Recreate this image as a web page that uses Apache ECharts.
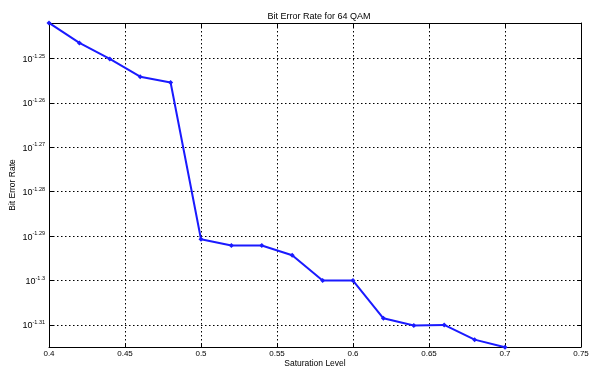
<!DOCTYPE html>
<html>
<head>
<meta charset="utf-8">
<script src="https://cdn.jsdelivr.net/npm/echarts@6/dist/echarts.min.js"></script>
<style>html,body{margin:0;padding:0;background:#fff}#c{width:590px;height:367px}</style>
</head>
<body>
<div id="c"></div>
<script>
var saturation = [0.40, 0.42, 0.44, 0.46, 0.48, 0.50, 0.52, 0.54, 0.56, 0.58, 0.60, 0.62, 0.64, 0.66, 0.68, 0.70];
var log10Ber = [-1.2420, -1.2465, -1.2501, -1.2541, -1.2554, -1.2907, -1.2921, -1.2921, -1.2943, -1.3000, -1.3000, -1.3085, -1.3101, -1.3100, -1.3133, -1.3150];
var yTickExponents = [-1.31, -1.30, -1.29, -1.28, -1.27, -1.26, -1.25];
var xTicks = [0.4, 0.45, 0.5, 0.55, 0.6, 0.65, 0.7, 0.75];

var FONT = 'Liberation Sans, Arial, sans-serif';
var chart = echarts.init(document.getElementById('c'));
var data = saturation.map(function (x, i) { return [x, log10Ber[i]]; });
var yMin = -1.31496, yMax = -1.24201;
var grid = { left: 49, right: 9, top: 23, bottom: 20, outerBoundsMode: 'none', containLabel: false };
var dash = { color: '#000', type: [1.5, 2.5], width: 1 };

chart.setOption({
  animation: false,
  backgroundColor: '#fff',
  title: {
    text: 'Bit Error Rate for 64 QAM',
    left: 314, top: 7, textAlign: 'center',
    textStyle: { fontFamily: FONT, fontSize: 9, fontWeight: 'normal', color: '#000' }
  },
  grid: grid,
  xAxis: [{
    type: 'value', min: 0.4, max: 0.75, interval: 0.05,
    name: 'Saturation Level', nameLocation: 'middle', nameGap: 12, nameMoveOverlap: false,
    nameTextStyle: { fontFamily: FONT, fontSize: 8.5, color: '#000' },
    axisLine: { show: true, onZero: false, lineStyle: { color: '#000', width: 1 } },
    axisTick: { show: true, inside: true, length: 4, lineStyle: { color: '#000' } },
    axisLabel: { fontFamily: FONT, fontSize: 8, color: '#000', margin: 3,
      formatter: function (v) { return String(+v.toFixed(2)); } },
    splitLine: { show: true, lineStyle: dash }
  }, {
    type: 'value', min: 0.4, max: 0.75, interval: 0.05, position: 'top',
    axisLine: { show: true, onZero: false, lineStyle: { color: '#000', width: 1 } },
    axisTick: { show: true, inside: true, length: 4, lineStyle: { color: '#000' } },
    axisLabel: { show: false }, splitLine: { show: false }
  }],
  yAxis: [{
    type: 'value', min: yMin, max: yMax,
    name: 'Bit Error Rate', nameLocation: 'middle', nameGap: 32, nameRotate: 90, nameMoveOverlap: false,
    nameTextStyle: { fontFamily: FONT, fontSize: 8.5, color: '#000' },
    axisLine: { show: true, onZero: false, lineStyle: { color: '#000', width: 1 } },
    axisTick: { show: true, inside: true, length: 4, customValues: yTickExponents, lineStyle: { color: '#000' } },
    axisLabel: {
      customValues: yTickExponents, margin: 4,
      formatter: function (v) { return '{b|10}{s|' + String(+v.toFixed(2)) + '}'; },
      rich: {
        b: { fontFamily: FONT, fontSize: 9, color: '#000', verticalAlign: 'bottom', lineHeight: 11, padding: [3, 0, 0, 0] },
        s: { fontFamily: FONT, fontSize: 5.5, color: '#000', verticalAlign: 'top', lineHeight: 7 }
      }
    },
    splitLine: { show: true, lineStyle: dash }
  }, {
    type: 'value', min: yMin, max: yMax, position: 'right',
    axisLine: { show: true, onZero: false, lineStyle: { color: '#000', width: 1 } },
    axisTick: { show: true, inside: true, length: 4, customValues: yTickExponents, lineStyle: { color: '#000' } },
    axisLabel: { show: false }, splitLine: { show: false }
  }],
  series: [{
    type: 'line',
    data: data,
    symbol: 'diamond', symbolSize: 5, showSymbol: true,
    lineStyle: { color: '#1a1aff', width: 2 },
    itemStyle: { color: '#1a1aff' },
    clip: false
  }]
});
</script>
</body>
</html>
